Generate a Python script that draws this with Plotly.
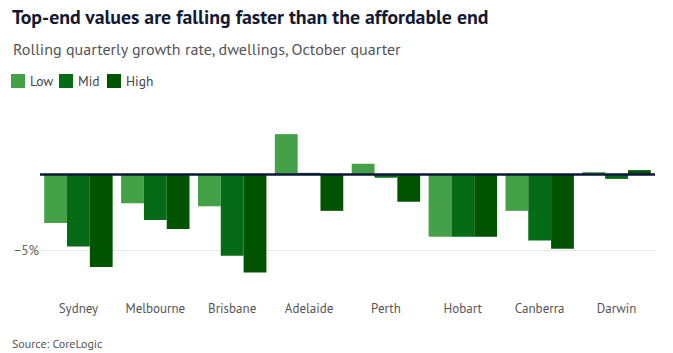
import plotly.graph_objects as go

cities = ["Sydney", "Melbourne", "Brisbane", "Adelaide", "Perth", "Hobart", "Canberra", "Darwin"]
low = [-3.2, -1.9, -2.1, 2.65, 0.7, -4.1, -2.4, 0.15]
mid = [-4.75, -3.0, -5.35, 0.1, -0.22, -4.1, -4.35, -0.3]
high = [-6.1, -3.6, -6.45, -2.4, -1.8, -4.1, -4.9, 0.28]
series_names = ["Low", "Mid", "High"]
series_colors = ["#45a148", "#066b17", "#005400"]

W, H = 673, 353
ML, MR, MT, MB = 40, 18, 106, 54
FONT = "Liberation Sans Narrow, PT Sans, Roboto, sans-serif"

def px_x(x):
    return (x - ML) / (W - ML - MR)

def px_y(y):
    return (H - MB - y) / (H - MT - MB)

fig = go.Figure()
for name, vals, col in zip(series_names, [low, mid, high], series_colors):
    fig.add_trace(go.Bar(x=cities, y=vals, name=name, marker_color=col,
                         marker_line_width=0, showlegend=False))

fig.add_hline(y=0, line_color="#0d1638", line_width=2.5, layer="above")

# manual legend
lx = 11
for name, col in zip(series_names, series_colors):
    fig.add_shape(type="rect", xref="paper", yref="paper",
                  x0=px_x(lx), x1=px_x(lx + 14), y0=px_y(88), y1=px_y(74),
                  fillcolor=col, line_width=0)
    fig.add_annotation(text=name, xref="paper", yref="paper", x=px_x(lx + 17), y=px_y(81),
                       xanchor="left", yanchor="middle", showarrow=False,
                       font=dict(family=FONT, size=13.5, color="#444"))
    lx += 48

fig.add_annotation(text="Rolling quarterly growth rate, dwellings, October quarter",
                   xref="paper", yref="paper", x=px_x(11), y=px_y(49),
                   xanchor="left", yanchor="middle", showarrow=False,
                   font=dict(family=FONT, size=16.1, color="#555"))
fig.add_annotation(text="Source: CoreLogic", xref="paper", yref="paper",
                   x=px_x(10), y=px_y(343), xanchor="left", yanchor="middle", showarrow=False,
                   font=dict(family=FONT, size=12, color="#555"))

fig.update_layout(
    width=W, height=H,
    margin=dict(l=ML, r=MR, t=MT, b=MB),
    paper_bgcolor="white", plot_bgcolor="white",
    title=dict(text="<b>Top-end values are falling faster than the affordable end</b>",
               xref="container", yref="container", x=12 / W, xanchor="left",
               y=1 - 17 / H, yanchor="middle",
               font=dict(family=FONT, size=19.8, color="#121a33")),
    barmode="group", bargap=0.11, bargroupgap=0,
    font=dict(family=FONT),
    xaxis=dict(showgrid=False, showline=False, ticks="",
               tickfont=dict(family=FONT, size=13, color="#555")),
    yaxis=dict(range=[-8.2, 4.5], tickvals=[-5], ticktext=["\u22125%"],
               showgrid=True, gridcolor="#e6e6e6", gridwidth=1,
               zeroline=False, showline=False, ticks="",
               tickfont=dict(family=FONT, size=13.5, color="#666")),
)

fig.write_html("out.html")
